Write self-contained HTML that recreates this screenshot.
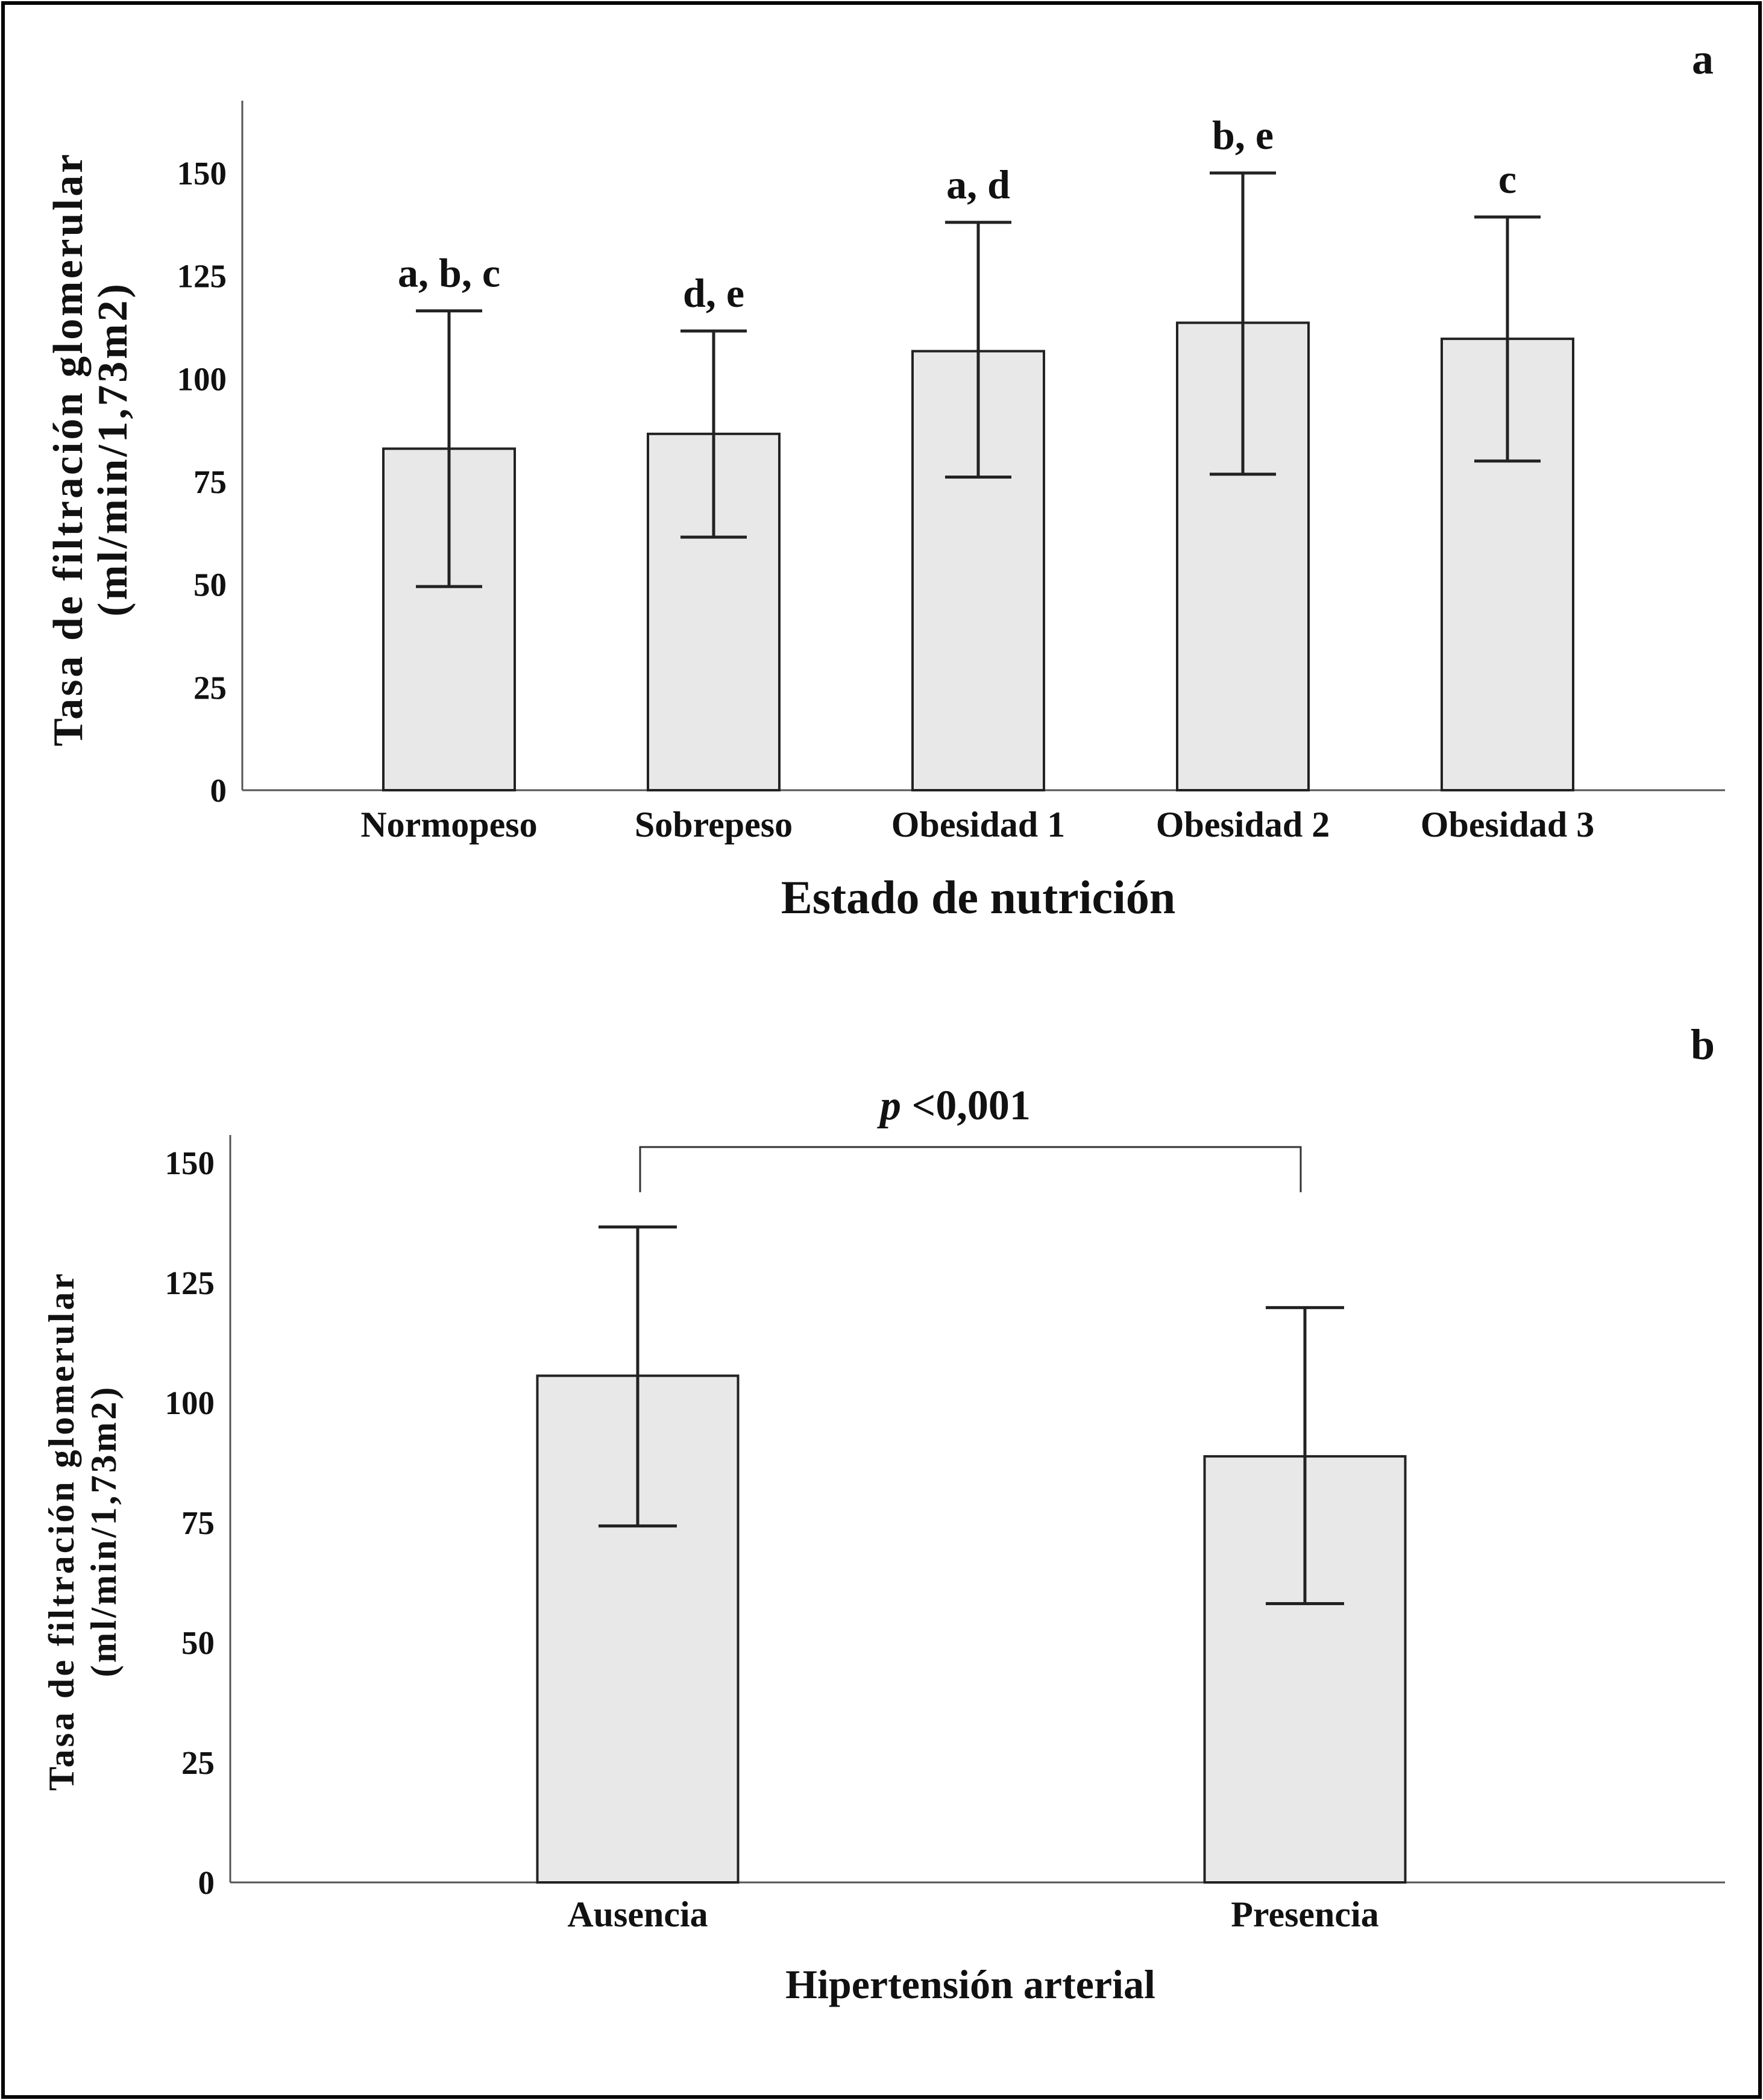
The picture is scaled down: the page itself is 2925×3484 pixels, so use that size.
<!DOCTYPE html>
<html><head><meta charset="utf-8"><style>
html,body{margin:0;padding:0;background:#fff}
svg{display:block}
text{font-family:"Liberation Serif",serif;font-weight:bold;fill:#111}
</style></head><body>
<svg id="fig" width="2925" height="3484" viewBox="0 0 2925 3484">
<rect x="5" y="5" width="2915" height="3474" fill="#fff" stroke="#000" stroke-width="6"/>
<g id="pa"></g>
<g id="pb"></g>
</svg>
<script>
const catsA = ["Normopeso","Sobrepeso","Obesidad 1","Obesidad 2","Obesidad 3"];
const meansA = [83, 86.6, 106.7, 113.6, 109.7];
const upperA = [116.5, 111.6, 138, 150, 139.3];
const lowerA = [49.5, 61.5, 76.1, 76.8, 80];
const lettersA = ["a, b, c","d, e","a, d","b, e","c"];
const ticksA = [0,25,50,75,100,125,150];
const catsB = ["Ausencia","Presencia"];
const meansB = [105.6, 88.8];
const upperB = [136.6, 119.8];
const lowerB = [74.3, 58.1];
const ticksB = [0,25,50,75,100,125,150];

const NS="http://www.w3.org/2000/svg";
function mk(parent,tag,attrs,txt){const e=document.createElementNS(NS,tag);for(const k in attrs)e.setAttribute(k,attrs[k]);if(txt!==undefined)e.textContent=txt;parent.appendChild(e);return e;}

function panel(g,cfg){
  const y=v=>cfg.base-(v/150)*(cfg.base-cfg.y150);
  const x=i=>cfg.c0+i*cfg.step;
  let e;
  e=mk(g,'line',{x1:cfg.ax,y1:cfg.top,x2:cfg.ax,y2:cfg.base,stroke:'#555','stroke-width':3});
  
  
  e=mk(g,'line',{x1:cfg.ax,y1:cfg.base,x2:cfg.xend,y2:cfg.base,stroke:'#555','stroke-width':3});
  
  
  cfg.ticks.forEach(t=>{
    e=mk(g,'text',{x:cfg.ax-26,y:y(t)+19,'text-anchor':'end','font-size':55},String(t));
    
    
  });
  cfg.cats.forEach((c,i)=>{
    const cx=x(i),bw=cfg.bw;
    e=mk(g,'rect',{x:cx-bw/2,y:y(cfg.means[i]),width:bw,height:cfg.base-y(cfg.means[i]),fill:'#e8e8e8',stroke:'#222','stroke-width':4});
    
    
    e=mk(g,'path',{d:`M${cx},${y(cfg.upper[i])}V${y(cfg.lower[i])}M${cx-cfg.cap},${y(cfg.upper[i])}H${cx+cfg.cap}M${cx-cfg.cap},${y(cfg.lower[i])}H${cx+cfg.cap}`,stroke:'#222','stroke-width':5,fill:'none'});
    
    
    e=mk(g,'text',{x:cx,y:cfg.catY,'text-anchor':'middle','font-size':cfg.catSize},c);
    
    
    if(cfg.letters){
      e=mk(g,'text',{x:cx,y:y(cfg.upper[i])-40,'text-anchor':'middle','font-size':68},cfg.letters[i]);
      
      
    }
  });
  return {x,y};
}

const ga=document.getElementById('pa');
panel(ga,{ax:402,top:167,base:1311,y150:287,xend:2862,c0:745,step:439,bw:218,cap:55,cats:catsA,means:meansA,upper:upperA,lower:lowerA,letters:lettersA,ticks:ticksA,catY:1388,catSize:60});
let t;
t=mk(ga,'text',{x:1623,y:1515,'text-anchor':'middle','font-size':78},'Estado de nutrición');


t=mk(ga,'text',{transform:'translate(136,745) rotate(-90)','text-anchor':'middle','font-size':70,'letter-spacing':4},'Tasa de filtración glomerular');


t=mk(ga,'text',{transform:'translate(210,745) rotate(-90)','text-anchor':'middle','font-size':70,'letter-spacing':4},'(ml/min/1,73m2)');


t=mk(ga,'text',{x:2825,y:122,'text-anchor':'middle','font-size':72},'a');



const gb=document.getElementById('pb');
const sb=panel(gb,{ax:382,top:1883,base:3123,y150:1929,xend:2862,c0:1058,step:1107,bw:333,cap:65,cats:catsB,means:meansB,upper:upperB,lower:lowerB,letters:null,ticks:ticksB,catY:3196,catSize:60});
t=mk(gb,'path',{d:'M1062,1978V1903H2158V1978',stroke:'#333','stroke-width':3,fill:'none'});


t=mk(gb,'text',{x:1585,y:1857,'text-anchor':'middle','font-size':70});


mk(t,'tspan',{'font-style':'italic'},'p');
mk(t,'tspan',{},' <0,001');
t=mk(gb,'text',{x:1610,y:3315,'text-anchor':'middle','font-size':68},'Hipertensión arterial');


t=mk(gb,'text',{transform:'translate(122,2540) rotate(-90)','text-anchor':'middle','font-size':60,'letter-spacing':4},'Tasa de filtración glomerular');


t=mk(gb,'text',{transform:'translate(192,2540) rotate(-90)','text-anchor':'middle','font-size':60,'letter-spacing':4},'(ml/min/1,73m2)');


t=mk(gb,'text',{x:2825,y:1757,'text-anchor':'middle','font-size':72},'b');


</script>
</body></html>
